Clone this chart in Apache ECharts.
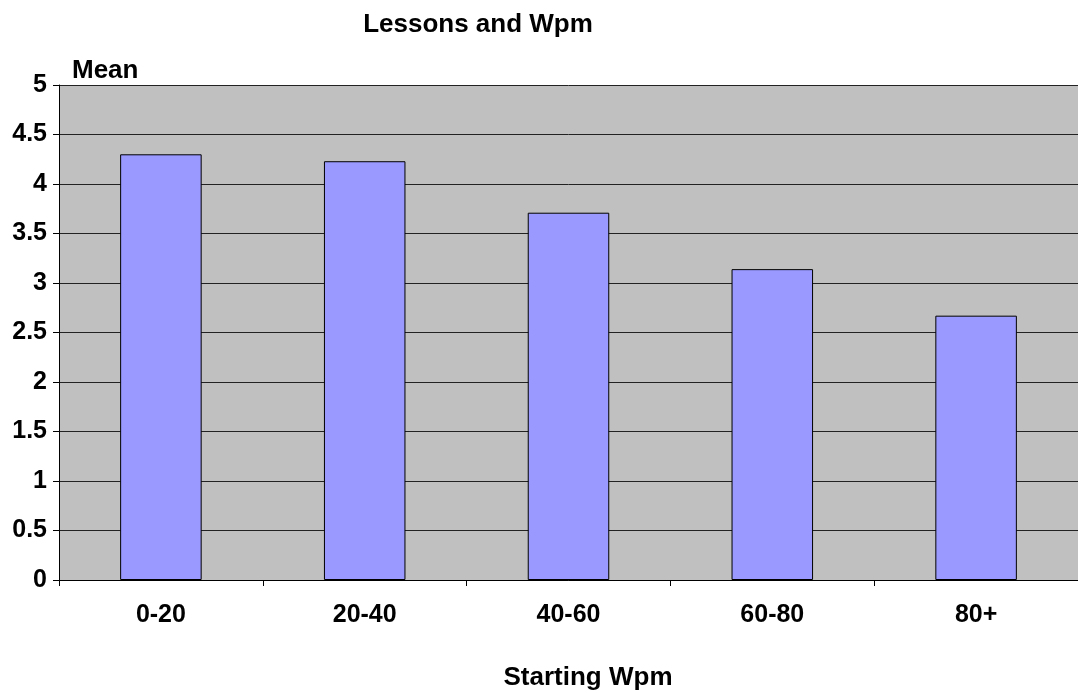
<!DOCTYPE html>
<html>
<head>
<meta charset="utf-8">
<script src="https://cdn.jsdelivr.net/npm/echarts@6/dist/echarts.min.js"></script>
<style>
  html, body { margin: 0; padding: 0; background: #fff; }
  #chart { width: 1078px; height: 693px; }
</style>
</head>
<body>
<div id="chart"></div>
<script>
var categories = ['0-20', '20-40', '40-60', '60-80', '80+']
var meanValues = [4.30, 4.23, 3.71, 3.14, 2.67]
var yTicks = [0, 0.5, 1, 1.5, 2, 2.5, 3, 3.5, 4, 4.5, 5]

var chart = echarts.init(document.getElementById('chart'))
var font = 'Liberation Sans, Arial, sans-serif'

// 标题和坐标轴名称用 graphic 文字，方便对齐
function label (text, x, y, align) {
  return {
    type: 'text',
    x: x,
    y: y,
    style: {
      text: text,
      fontSize: 26,
      fontWeight: 'bold',
      fontFamily: font,
      fill: '#000',
      align: align,
      verticalAlign: 'middle'
    }
  }
}

var options = {
  animation: false,
  textStyle: { fontFamily: font },
  graphic: [
    label('Lessons and Wpm', 478, 25, 'center'),
    label('Mean', 72, 71, 'left'),
    label('Starting Wpm', 588, 678, 'center')
  ],
  grid: {
    left: 59,
    right: -6,
    top: 85,
    bottom: 113,
    show: true,
    backgroundColor: '#C0C0C0',
    borderWidth: 0
  },
  xAxis: {
    type: 'category',
    data: categories,
    axisLine: { show: true, lineStyle: { color: '#000', width: 1 } },
    axisTick: { show: true, length: 6, lineStyle: { color: '#000' } },
    axisLabel: { color: '#000', fontSize: 25, fontWeight: 'bold', margin: 23, fontFamily: font }
  },
  yAxis: {
    type: 'value',
    min: yTicks[0],
    max: yTicks[yTicks.length - 1],
    interval: 0.5,
    axisLine: { show: true, lineStyle: { color: '#000', width: 1 } },
    axisTick: { show: true, length: 6, lineStyle: { color: '#000' } },
    axisLabel: {
      color: '#000',
      fontSize: 25,
      fontWeight: 'bold',
      margin: 12,
      padding: [6, 0, 0, 0],
      fontFamily: font
    },
    splitLine: { show: true, lineStyle: { color: '#222', width: 1 } }
  },
  series: [
    {
      type: 'bar',
      data: meanValues,
      barWidth: '40%',
      itemStyle: { color: '#9999FF', borderColor: '#000', borderWidth: 1 }
    }
  ]
}
chart.setOption(options)
</script>
</body>
</html>
